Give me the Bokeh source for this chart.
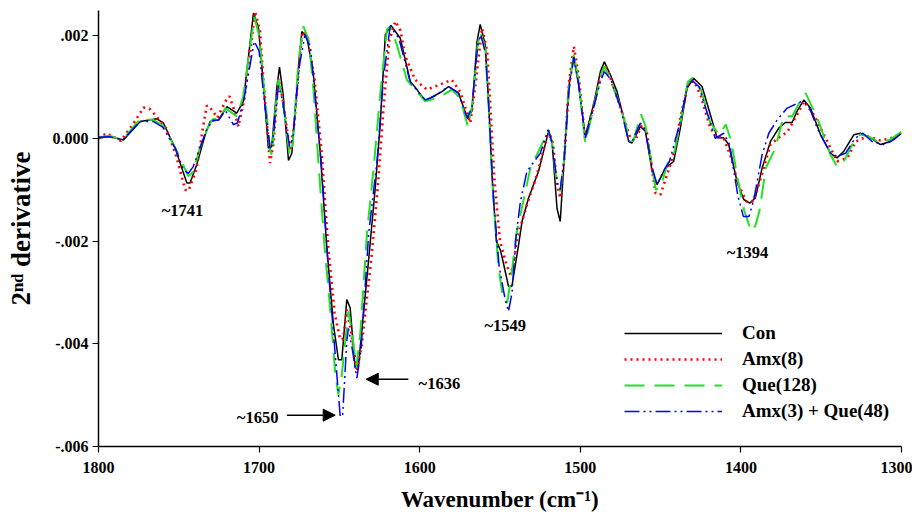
from bokeh.plotting import figure
from bokeh.models import (Range1d, FixedTicker, Legend, LegendItem, Label, Arrow, NormalHead)
from bokeh.embed import file_html
from bokeh.resources import INLINE

# ---------------- data (2nd derivative, in units of 1e-3) ----------------
con_wn = [1800, 1793, 1784.5, 1774, 1763.7, 1759.6, 1752.3, 1745, 1743, 1738.8, 1733.6, 1730.5,
          1725.3, 1720, 1713.9, 1709.8, 1703.5, 1700.4, 1697.3, 1694.2, 1692.1, 1689, 1687.3, 1685,
          1681.7, 1679.6, 1675.5, 1673.4, 1670.3, 1666.2, 1662, 1657.8, 1653.7, 1650.6, 1648.5,
          1645.4, 1643.3, 1640.2, 1638.1, 1631.9, 1627.7, 1624.6, 1621.4, 1617.9, 1612.1, 1605.9,
          1601.7, 1596.5, 1591.4, 1586.1, 1582, 1575.8, 1570.2, 1567.5, 1564.3, 1562.3, 1559.2,
          1557.1, 1555, 1552.3, 1549.8, 1548.8, 1544.7, 1542.6, 1538.4, 1536.3, 1532.2, 1526,
          1519.7, 1517.6, 1514.5, 1512.5, 1510.4, 1507.3, 1504.2, 1501.1, 1496.9, 1491.7, 1487.5,
          1485, 1481.3, 1477.1, 1473, 1469.9, 1467.8, 1462.6, 1459.5, 1455.3, 1452.2, 1447, 1441.9,
          1437.7, 1433.5, 1429.4, 1424.2, 1419, 1414.8, 1410.7, 1407.6, 1402.4, 1398.2, 1394.5,
          1391, 1386.8, 1381.6, 1376.4, 1372.3, 1368.1, 1365, 1360.8, 1356.7, 1350.4, 1344.2,
          1340.1, 1335.9, 1329.7, 1325.5, 1319.3, 1313.1, 1306.8, 1300]
con_val = [0, 0.04, -0.03, 0.33, 0.38, 0.30, -0.19, -0.87, -0.87, -0.51, 0.07, 0.33,
           0.36, 0.62, 0.49, 0.72, 2.44, 2.15, 1.05, -0.19, -0.16, 0.98, 1.39, 0.85,
           -0.43, -0.29, 1.37, 2.08, 1.99, 1.24, -0.25, -2.14, -3.63, -4.31, -4.31,
           -3.14, -3.30, -4.47, -4.41, -2.40, -0.97, 0.27, 2.02, 2.20, 1.95, 1.11,
           0.95, 0.73, 0.82, 0.91, 1.01, 0.88, 0.38, 0.53, 1.89, 2.22, 1.82,
           0.72, -0.71, -2.00, -2.17, -2.30, -2.88, -2.88, -2.07, -1.62, -1.16, -0.64,
           0.14, -0.06, -1.36, -1.62, -0.58, 0.98, 1.60, 1.05, 0.04, 0.66, 1.30,
           1.49, 1.24, 0.91, 0.40, -0.06, -0.09, 0.23, 0.14, -0.64, -0.90, -0.58, -0.45,
           0.20, 0.98, 1.17, 1.01, 0.46, 0.01, 0.01, -0.12, -0.84, -1.19, -1.26,
           -1.16, -0.58, -0.06, 0.20, 0.31, 0.31, 0.53, 0.75, 0.59, 0.07, -0.29,
           -0.38, -0.25, 0.07, 0.10, 0.01, -0.12, -0.06, 0.10]

amx_wn = [1800, 1795, 1786, 1778, 1772, 1768.3, 1764.8, 1758, 1752, 1746, 1744, 1739, 1735,
          1732.6, 1729.5, 1726, 1721, 1718.5, 1716, 1712.9, 1709, 1702.5, 1699.5, 1697, 1693.2,
          1691, 1688, 1685.5, 1680.7, 1678, 1675, 1673, 1669.5, 1665.5, 1661, 1657, 1653,
          1649.5, 1647.5, 1645.4, 1642.5, 1639.1, 1636, 1630, 1626, 1622.5, 1619, 1615.2, 1612,
          1609, 1602.8, 1595.5, 1587.2, 1580, 1574.8, 1568.5, 1565.5, 1561.2, 1558, 1556,
          1553.5, 1550, 1546.5, 1543.6, 1541.5, 1539.4, 1533.2, 1527, 1519.7, 1517, 1514.5,
          1512.5, 1510, 1507, 1504, 1501, 1497, 1492, 1487, 1484.5, 1483, 1474.9, 1468.8, 1466,
          1461.6, 1458.5, 1453.2, 1450.1, 1445, 1441, 1437.7, 1432.5, 1429, 1424.9, 1419,
          1414.8, 1411, 1406, 1401.9, 1396.6, 1392.5, 1388.5, 1381.6, 1375.4, 1371.2, 1365,
          1360.8, 1354.6, 1346.2, 1340.1, 1333.7, 1328.5, 1321.3, 1313.1, 1306.8, 1300]
amx_val = [0, 0.10, -0.05, 0.30, 0.60, 0.58, 0.46, 0.20, -0.30, -1.00, -1.02, -0.60, 0.20,
           0.64, 0.56, 0.40, 0.72, 0.82, 0.60, 0.23, 0.80, 2.47, 2.10, 1.00, -0.48,
           -0.10, 1.17, 0.80, -0.25, 0.30, 1.50, 2.08, 1.95, 1.15, -0.30, -2.10, -3.40,
           -3.92, -3.90, -3.33, -3.80, -4.54, -4.00, -2.30, -0.90, 0.60, 1.90, 2.28, 2.10,
           1.60, 1.14, 0.95, 1.05, 1.14, 0.91, 0.30, 1.00, 2.15, 1.70, 0.60,
           -0.80, -2.00, -2.40, -2.65, -2.45, -1.94, -1.29, -0.71, 0.15, -0.10, -0.90,
           -1.16, -0.40, 1.10, 1.79, 1.20, 0.00, 0.60, 1.25, 1.40, 1.34, 0.59, 0.00, -0.05,
           0.27, 0.10, -1.06, -1.10, -0.61, -0.20, 0.40, 1.11, 1.10, 0.82, 0.20,
           0.01, 0.03, -0.38, -0.87, -1.23, -1.23, -0.87, -0.12, 0.04, 0.12, 0.46,
           0.72, 0.46, -0.06, -0.45, -0.38, -0.06, 0.04, -0.04, 0.00, 0.10]

que_wn = [1800, 1793, 1785, 1774, 1766, 1760, 1752, 1744, 1741, 1737, 1732, 1729, 1725, 1721,
          1714, 1710, 1703, 1700, 1697, 1693, 1692, 1690, 1688, 1685.5, 1681, 1679, 1675.5,
          1672.4, 1669, 1666, 1663, 1659, 1655.8, 1652.5, 1650.6, 1648.5, 1644.4, 1642, 1639.5,
          1637, 1632.9, 1628.7, 1624.6, 1620.4, 1618.5, 1614.2, 1608, 1601.7, 1596.5, 1590,
          1585.1, 1580, 1574.8, 1570, 1567, 1564, 1562.3, 1559, 1557, 1554.5, 1551, 1547.8,
          1545.5, 1543, 1540, 1537.3, 1531.1, 1526, 1520, 1517.5, 1514.5, 1512.5, 1510, 1507,
          1504, 1501, 1496.9, 1491.7, 1487, 1485, 1483, 1477, 1472, 1469, 1467, 1462.2, 1459.5,
          1455, 1453, 1450, 1445.8, 1442, 1437.7, 1433, 1430, 1424.9, 1419, 1413.5, 1409.4,
          1406, 1402, 1398, 1393.6, 1391, 1388.5, 1384.5, 1378.6, 1373.4, 1368, 1363.5, 1359.7,
          1352.5, 1344.2, 1340.1, 1335.9, 1329.7, 1325.5, 1319.3, 1313, 1306.8, 1300]
que_val = [0.02, 0.05, -0.03, 0.38, 0.36, 0.25, -0.20, -0.74, -0.65, -0.20, 0.20, 0.37, 0.38, 0.59,
           0.43, 0.80, 2.37, 2.00, 1.00, -0.25, -0.32, 0.50, 1.14, 0.80, -0.33, -0.10, 1.50,
           2.18, 1.90, 0.90, -0.50, -2.20, -3.30, -4.60, -4.99, -4.60, -3.37, -3.80, -4.46,
           -3.80, -1.87, -0.58, 0.85, 2.12, 2.18, 1.82, 1.14, 0.91, 0.72, 0.78,
           0.85, 0.95, 0.78, 0.23, 0.70, 1.80, 2.08, 1.70, 0.60, -1.00, -2.50, -3.17,
           -3.20, -2.70, -1.90, -1.49, -0.58, -0.25, 0.15, -0.10, -0.90, -1.03, -0.40, 1.00,
           1.65, 1.10, -0.09, 0.60, 1.25, 1.40, 1.27, 0.80, 0.30, -0.06, -0.05, 0.47, 0.25,
           -0.60, -1.00, -0.95, -0.50, -0.35, 0.30, 1.10, 1.18, 0.95, 0.30, 0.07, 0.27,
           -0.06, -0.80, -1.40, -1.81, -1.70, -1.42, -0.58, -0.19, 0.43, 0.43, 0.70, 0.88,
           0.40, -0.32, -0.55, -0.45, -0.06, 0.08, 0.02, -0.09, -0.02, 0.13]

mix_wn = [1800, 1793, 1785, 1774, 1766, 1760, 1752, 1747.2, 1744, 1741, 1737, 1733, 1729, 1725,
          1721, 1716, 1713.5, 1709.8, 1703, 1700, 1697, 1693.2, 1691.5, 1688, 1685.5, 1681, 1679,
          1675, 1671.4, 1668, 1665.2, 1661, 1656.8, 1651.6, 1649.5, 1648, 1645.4, 1644.4, 1642,
          1639.1, 1636.5, 1631.8, 1626.6, 1622.5, 1618.4, 1613, 1606, 1601.7, 1596.5, 1591, 1582,
          1575.8, 1570.5, 1567.5, 1564, 1562, 1559, 1557, 1554, 1550.5, 1547, 1544.7, 1542.5,
          1540, 1537.3, 1533.2, 1524.9, 1520, 1517.5, 1514.5, 1512.5, 1510, 1507, 1504, 1501,
          1496.9, 1491.7, 1487.5, 1485, 1481, 1475, 1470, 1468, 1462.6, 1459.5, 1455, 1452.2,
          1447.5, 1444.5, 1438, 1433, 1430, 1426, 1420.5, 1416, 1410.7, 1407, 1402, 1398.5, 1395,
          1392, 1386.8, 1382.6, 1377.4, 1371.2, 1362, 1358, 1352.5, 1344.2, 1340, 1334.8, 1329,
          1324, 1318, 1311.2, 1305, 1300]
mix_val = [0.02, 0.03, -0.03, 0.33, 0.33, 0.22, -0.20, -0.61, -0.68, -0.55, -0.20, 0.15, 0.35, 0.36,
           0.54, 0.27, 0.30, 0.70, 1.89, 1.70, 0.80, -0.19, -0.05, 1.02, 0.75, -0.16, 0.00,
           1.40, 2.02, 1.75, 0.85, -0.58, -2.59, -4.60, -5.41, -5.41, -3.95, -3.70, -4.10,
           -4.67, -4.10, -1.87, -0.45, 1.20, 2.18, 1.95, 1.11, 0.93, 0.75, 0.82, 1.01,
           0.88, 0.40, 0.60, 1.80, 2.02, 1.65, 0.60, -1.20, -2.50, -3.10, -3.37, -3.00,
           -1.90, -1.23, -0.64, -0.29, 0.17, -0.10, -0.85, -1.00, -0.40, 0.95, 1.58, 1.05,
           0.00, 0.60, 1.11, 1.30, 1.15, 0.60, -0.05, -0.08, 0.30, 0.15, -0.60, -0.90,
           -0.60, -0.45, 0.30, 1.07, 1.12, 1.00, 0.45, 0.00, 0.10, -0.12, -1.10, -1.52, -1.52,
           -1.20, -0.32, 0.10, 0.36, 0.59, 0.72, 0.65, 0.20, -0.29, -0.35, -0.29, 0.00,
           0.10, -0.07, -0.12, -0.03, 0.10]

series_names = ["Con", "Amx(8)", "Que(128)", "Amx(3) + Que(48)"]

y_ticks = [-6, -4, -2, 0, 2]
y_tick_labels = ["-.006", "-.004", "-.002", "0.000", ".002"]
x_ticks = [1800, 1700, 1600, 1500, 1400, 1300]

SERIF = "Liberation Serif"

p = figure(width=912, height=515, output_backend="svg", toolbar_location=None,
           x_range=Range1d(1800, 1300), y_range=Range1d(-6, 2.49))
p.min_border_left = 98
p.min_border_right = 11
p.min_border_top = 10
p.min_border_bottom = 69
p.outline_line_color = None
p.xgrid.visible = False
p.ygrid.visible = False
p.background_fill_color = "white"
p.border_fill_color = "white"

for ax in (p.xaxis[0], p.yaxis[0]):
    ax.axis_line_color = "black"
    ax.axis_line_width = 1.5
    ax.major_tick_line_color = "black"
    ax.major_tick_line_width = 1.2
    ax.major_tick_out = 6
    ax.major_tick_in = 0
    ax.minor_tick_line_color = None
    ax.major_label_text_font = SERIF
    ax.major_label_text_font_style = "bold"
    ax.major_label_text_font_size = "16px"
    ax.major_label_text_color = "black"
    ax.axis_label_text_font = SERIF
    ax.axis_label_text_font_style = "bold"
    ax.axis_label_text_color = "black"

p.xaxis[0].ticker = FixedTicker(ticks=x_ticks)
p.xaxis[0].major_label_standoff = 9
p.xaxis[0].axis_label = "Wavenumber (cm\u207b\u00b9)"
p.xaxis[0].axis_label_text_font_size = "23px"
p.xaxis[0].axis_label_standoff = 11

p.yaxis[0].ticker = FixedTicker(ticks=y_ticks)
p.yaxis[0].major_label_overrides = {t: s for t, s in zip(y_ticks, y_tick_labels)}
p.yaxis[0].major_label_standoff = 4
p.yaxis[0].axis_label = "2\u207f\u1d48 derivative"
p.yaxis[0].axis_label_text_font_size = "27px"
p.yaxis[0].axis_label_standoff = 14

r_con = p.line(con_wn, con_val, line_color="black", line_width=1.5)
r_amx = p.line(amx_wn, amx_val, line_color="#ff0000", line_width=2.6, line_dash="2 4")
r_que = p.line(que_wn, que_val, line_color="#22e022", line_width=2, line_dash="20 10")
r_mix = p.line(mix_wn, mix_val, line_color="#0000ff", line_width=1.5, line_dash="15 4 2 4 2 4")

legend = Legend(items=[LegendItem(label=n, renderers=[r]) for n, r in
                       zip(series_names, [r_con, r_amx, r_que, r_mix])],
                location=(526, 24), glyph_width=98, glyph_height=20, label_height=20,
                spacing=4, label_standoff=20, padding=0, margin=0,
                border_line_alpha=0, background_fill_alpha=0,
                label_text_font=SERIF, label_text_font_style="bold",
                label_text_font_size="19px", label_text_color="black")
p.add_layout(legend, "center")

# peak annotations
ann_font = dict(text_font=SERIF, text_font_style="bold", text_font_size="16.5px",
                text_baseline="middle", text_color="black")
for txt, x, y in [("~1741", 1747.7, -1.41), ("~1549", 1546.7, -3.64),
                  ("~1394", 1395.9, -2.22), ("~1650", 1700.9, -5.44)]:
    p.add_layout(Label(x=x, y=y, text=txt, text_align="center", **ann_font))
p.add_layout(Label(x=1600.7, y=-4.78, text="~1636", text_align="left", **ann_font))

p.add_layout(Arrow(x_start=1682.7, y_start=-5.39, x_end=1652.6, y_end=-5.39, line_width=1.5,
                   end=NormalHead(size=12, fill_color="black", line_color="black")))
p.add_layout(Arrow(x_start=1607.1, y_start=-4.69, x_end=1633.3, y_end=-4.69, line_width=1.5,
                   end=NormalHead(size=12, fill_color="black", line_color="black")))

open("out.html", "w").write(file_html(p, INLINE))
